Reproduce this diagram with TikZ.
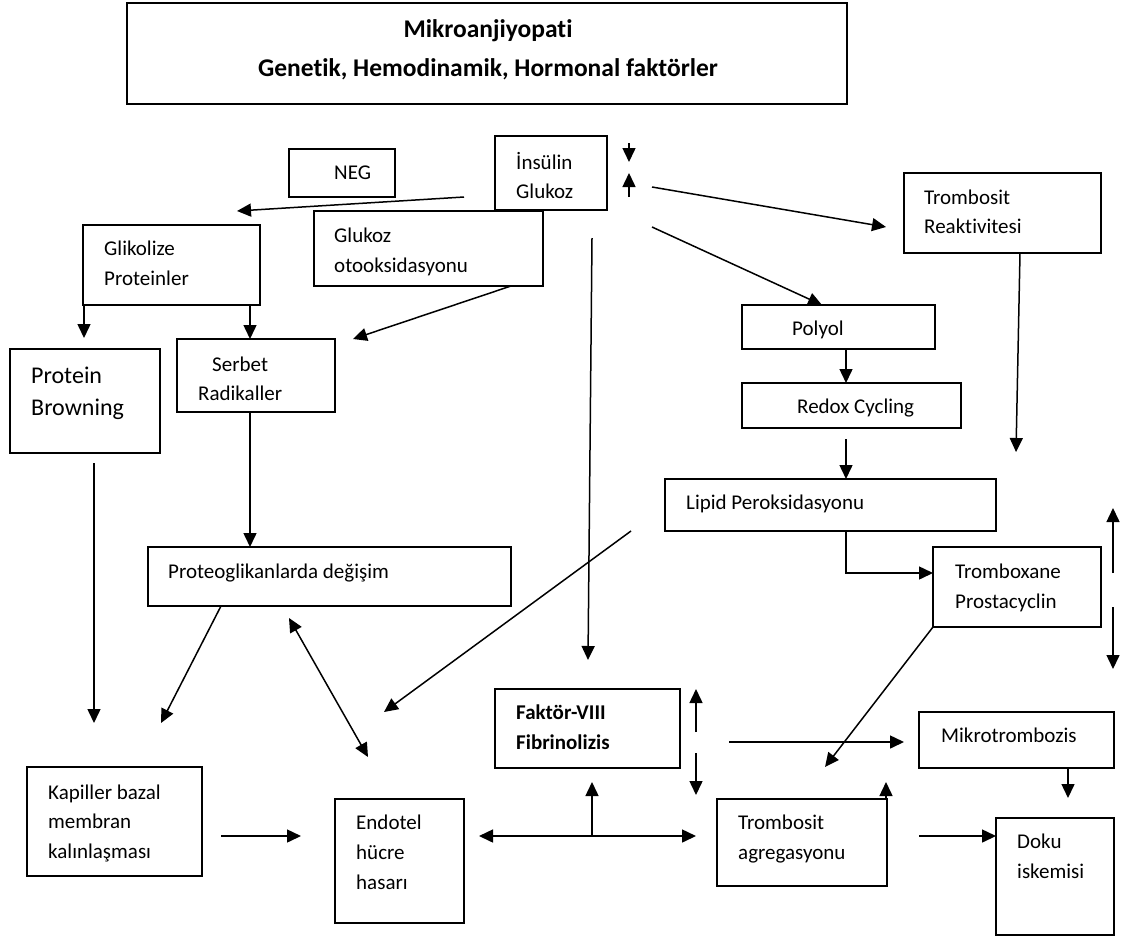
\documentclass[tikz,border=0pt]{standalone}
\usepackage{fontspec}
\setmainfont{Carlito}[Ligatures={NoCommon}]
\usetikzlibrary{arrows.meta}
\tikzset{
  box/.style={draw, line width=1.5pt, inner sep=0pt, fill=none},
  txt/.style={anchor=base west, inner sep=0pt, font=\fontsize{21}{30}\selectfont},
  bigtxt/.style={anchor=base west, inner sep=0pt, font=\fontsize{24}{32}\selectfont},
  ttl/.style={anchor=base, inner sep=0pt, font=\fontsize{25.5}{32}\selectfont\bfseries},
  arr/.style={line width=1.5pt, -{Triangle[length=14pt,width=13pt]}},
  darr/.style={line width=1.5pt, {Triangle[length=14pt,width=13pt]}-{Triangle[length=14pt,width=13pt]}},
  ln/.style={line width=1.5pt}
}
\newcommand{\bx}[5]{\node[box, minimum width={#4-#2}, minimum height={#5-#3}] (#1) at ({(#2+#4)/2},{(#3+#5)/2}) {};}
\begin{document}
\begin{tikzpicture}[x=1pt,y=-1pt]
\useasboundingbox (0,0) rectangle (1123,937);
\fill[white] (0,0) rectangle (1123,937);
% boxes
\bx{title}{127}{3}{847}{104}
\bx{neg}{289}{149}{395}{197}
\bx{ins}{495}{136}{607}{210}
\bx{oto}{314}{211}{543}{286}
\bx{glik}{83}{225}{260}{305}
\bx{pb}{10}{349}{160}{453}
\bx{serb}{177}{339}{335}{412}
\bx{trr}{904}{173}{1101}{253}
\bx{polyol}{742}{305}{935}{349}
\bx{redox}{742}{383}{961}{428}
\bx{lipid}{665}{479}{996}{531}
\bx{trox}{933}{547}{1101}{627}
\bx{proteo}{148}{547}{511}{606}
\bx{mikro}{919}{712}{1114}{768}
\bx{faktor}{495}{689}{680}{768}
\bx{doku}{996}{818}{1114}{935}
\bx{tragg}{717}{799}{887}{886}
\bx{endo}{335}{799}{464}{923}
\bx{kap}{27}{767}{202}{876}
% texts
\node[ttl] (title1) at (488,37) {Mikroanjiyopati};
\node[ttl] (title2) at (488,76) {Genetik, Hemodinamik, Hormonal faktörler};
\node[txt] (negT) at (334,179) {NEG};
\node[txt] (ins1) at (516,169) {İnsülin};
\node[txt] (ins2) at (516,198) {Glukoz};
\node[txt] (oto1) at (334,242) {Glukoz};
\node[txt] (oto2) at (334,272) {otooksidasyonu};
\node[txt] (glik1) at (104,255) {Glikolize};
\node[txt] (glik2) at (104,285) {Proteinler};
\node[bigtxt] (pb1) at (31,383) {Protein};
\node[bigtxt] (pb2) at (31,415) {Browning};
\node[txt] (serb1) at (212,371) {Serbet};
\node[txt] (serb2) at (198,400) {Radikaller};
\node[txt] (trr1) at (924,204) {Trombosit};
\node[txt] (trr2) at (924,233) {Reaktivitesi};
\node[txt] (polyolT) at (792,335) {Polyol};
\node[txt] (redoxT) at (797,413) {Redox Cycling};
\node[txt] (lipidT) at (686,509) {Lipid Peroksidasyonu};
\node[txt] (trox1) at (955,578) {Tromboxane};
\node[txt] (trox2) at (955,608) {Prostacyclin};
\node[txt] (proteoT) at (168,578) {Proteoglikanlarda değişim};
\node[txt] (mikroT) at (941,742) {Mikrotrombozis};
\node[txt,font=\fontsize{21}{30}\selectfont\bfseries] (fak1) at (516,719) {Faktör-VIII};
\node[txt,font=\fontsize{21}{30}\selectfont\bfseries] (fak2) at (516,749) {Fibrinolizis};
\node[txt] (doku1) at (1017,848) {Doku};
\node[txt] (doku2) at (1017,878) {iskemisi};
\node[txt] (tragg1) at (738,829) {Trombosit};
\node[txt] (tragg2) at (738,859) {agregasyonu};
\node[txt] (endo1) at (356,829) {Endotel};
\node[txt] (endo2) at (356,859) {hücre};
\node[txt] (endo3) at (356,889) {hasarı};
\node[txt] (kap1) at (48,799) {Kapiller bazal};
\node[txt] (kap2) at (48,828) {membran};
\node[txt] (kap3) at (48,858) {kalınlaşması};
% free-end coordinates
\coordinate (c1s) at (464,197); \coordinate (c1e) at (237,211);
\coordinate (c2s) at (84,305);  \coordinate (c2e) at (84,338);
\coordinate (c3s) at (250,305); \coordinate (c3e) at (250,339);
\coordinate (c4s) at (511,286); \coordinate (c4e) at (353,339);
\coordinate (c5s) at (629,143); \coordinate (c5e) at (629,162);
\coordinate (c6s) at (629,197); \coordinate (c6e) at (629,173);
\coordinate (c7s) at (652,187); \coordinate (c7e) at (886,227);
\coordinate (c8s) at (652,227); \coordinate (c8e) at (822,305);
\coordinate (c9s) at (592,238); \coordinate (c9e) at (588,660);
\coordinate (c10s) at (1020,253); \coordinate (c10e) at (1016,452);
\coordinate (c11s) at (846,349); \coordinate (c11e) at (846,383);
\coordinate (c12s) at (846,439); \coordinate (c12e) at (846,479);
\coordinate (c13s) at (846,531); \coordinate (c13e) at (933,573);
\coordinate (c14s) at (1113,573); \coordinate (c14e) at (1113,508);
\coordinate (c15s) at (1113,607); \coordinate (c15e) at (1113,669);
\coordinate (c16s) at (933,627); \coordinate (c16e) at (825,767);
\coordinate (c17s) at (729,742); \coordinate (c17e) at (904,742);
\coordinate (c18s) at (696,732); \coordinate (c18e) at (696,689);
\coordinate (c19s) at (696,753); \coordinate (c19e) at (696,795);
\coordinate (c20s) at (1068,768); \coordinate (c20e) at (1068,798);
\coordinate (c21s) at (886,799); \coordinate (c21e) at (886,782);
\coordinate (c22s) at (919,836); \coordinate (c22e) at (996,836);
\coordinate (c23s) at (479,836); \coordinate (c23e) at (696,836);
\coordinate (c24s) at (592,836); \coordinate (c24e) at (592,782);
\coordinate (c25s) at (221,836); \coordinate (c25e) at (301,836);
\coordinate (c26s) at (94,463);  \coordinate (c26e) at (94,723);
\coordinate (c27s) at (250,412); \coordinate (c27e) at (250,547);
\coordinate (c28s) at (221,606); \coordinate (c28e) at (161,723);
\coordinate (c29s) at (289,618); \coordinate (c29e) at (368,757);
\coordinate (c30s) at (631,531); \coordinate (c30e) at (384,712);
% connectors
\draw[arr] (c1s) -- (c1e);
\draw[arr] (c2s) -- (c2e);
\draw[arr] (c3s) -- (c3e);
\draw[arr] (c4s) -- (c4e);
\draw[arr] (c5s) -- (c5e);
\draw[arr] (c6s) -- (c6e);
\draw[arr] (c7s) -- (c7e);
\draw[arr] (c8s) -- (c8e);
\draw[arr] (c9s) -- (c9e);
\draw[arr] (c10s) -- (c10e);
\draw[arr] (c11s) -- (c11e);
\draw[arr] (c12s) -- (c12e);
\draw[arr] (c13s) |- (c13e);
\draw[arr] (c14s) -- (c14e);
\draw[arr] (c15s) -- (c15e);
\draw[arr] (c16s) -- (c16e);
\draw[arr] (c17s) -- (c17e);
\draw[arr] (c18s) -- (c18e);
\draw[arr] (c19s) -- (c19e);
\draw[arr] (c20s) -- (c20e);
\draw[arr] (c21s) -- (c21e);
\draw[arr] (c22s) -- (c22e);
\draw[darr] (c23s) -- (c23e);
\draw[arr] (c24s) -- (c24e);
\draw[arr] (c25s) -- (c25e);
\draw[arr] (c26s) -- (c26e);
\draw[arr] (c27s) -- (c27e);
\draw[arr] (c28s) -- (c28e);
\draw[darr] (c29s) -- (c29e);
\draw[arr] (c30s) -- (c30e);
\end{tikzpicture}
\end{document}
